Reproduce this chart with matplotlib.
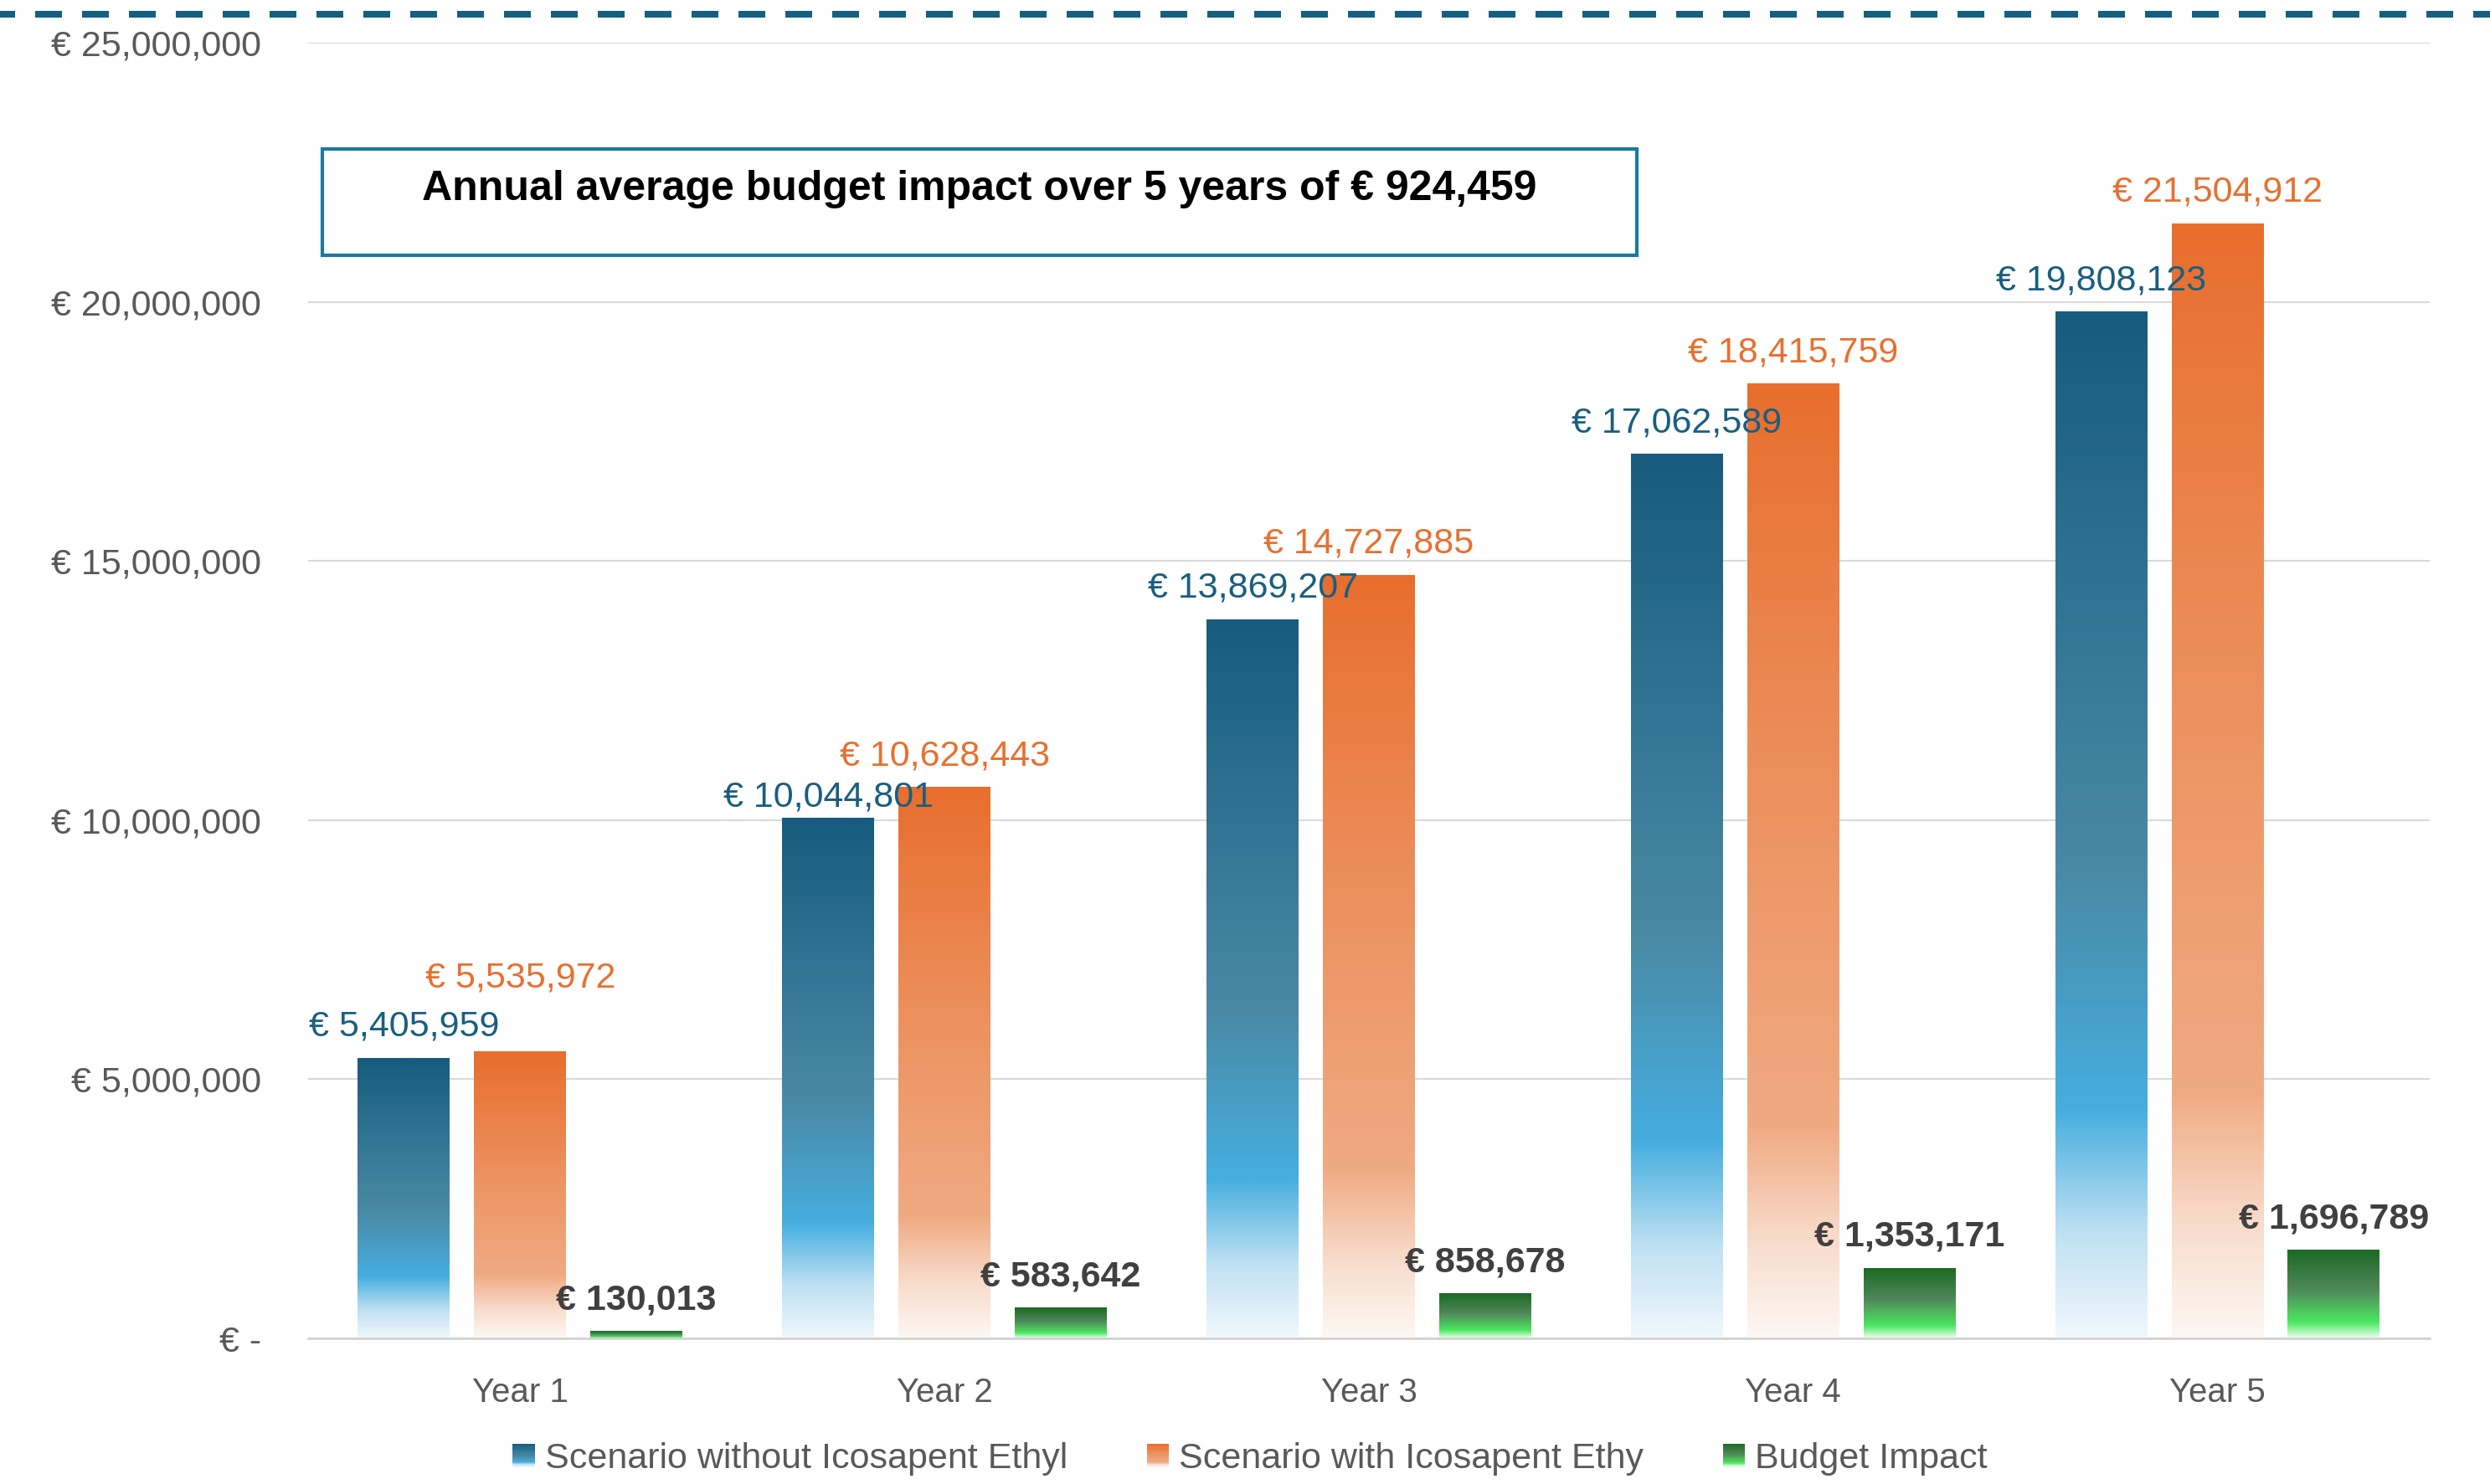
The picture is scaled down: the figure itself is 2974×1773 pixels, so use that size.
import numpy as np
import matplotlib
matplotlib.use("Agg")
import matplotlib.pyplot as plt
from matplotlib.colors import LinearSegmentedColormap
from matplotlib.patches import Rectangle
from matplotlib.lines import Line2D
from matplotlib.legend_handler import HandlerBase
from matplotlib.ticker import FuncFormatter

# data
years = ["Year 1", "Year 2", "Year 3", "Year 4", "Year 5"]
without_ie = [5405959, 10044801, 13869207, 17062589, 19808123]
with_ie = [5535972, 10628443, 14727885, 18415759, 21504912]
budget_impact = [130013, 583642, 858678, 1353171, 1696789]
series_names = ["Scenario without Icosapent Ethyl", "Scenario with Icosapent Ethy", "Budget Impact"]
avg_text = "Annual average budget impact over 5 years of € 924,459"

plt.rcParams["font.family"] = ["Liberation Sans", "DejaVu Sans"]

cm_blue = LinearSegmentedColormap.from_list(
    "b", [(0, "#f0f7fc"), (0.1, "#bfe1f3"), (0.22, "#46aee0"), (0.45, "#4a8aa6"), (1, "#175c7e")])
cm_orange = LinearSegmentedColormap.from_list(
    "o", [(0, "#fdf7f3"), (0.1, "#f8dccb"), (0.22, "#f0aa82"), (0.5, "#ed9767"), (1, "#e86e2d")])
cm_green = LinearSegmentedColormap.from_list(
    "g", [(0, "#f0fff0"), (0.18, "#4ce860"), (0.55, "#50885a"), (1, "#1b6a23")])


class GradientHandler(HandlerBase):
    def __init__(self, cmap):
        super().__init__()
        self.cmap = cmap

    def create_artists(self, legend, orig_handle, xdescent, ydescent,
                       width, height, fontsize, trans):
        n = 24
        arts = []
        for i in range(n):
            r = Rectangle((-xdescent, -ydescent + height * i / n), width, height / n * 1.05,
                          facecolor=self.cmap((i + 0.5) / n), edgecolor="none",
                          transform=trans)
            arts.append(r)
        return arts


fig = plt.figure(figsize=(29.74, 17.73), dpi=100)
ax = fig.add_axes([0.1237, 0.0981, 0.8521, 0.8731])

x = np.arange(len(years))
w = 0.217
off = 0.274
groups = [
    (without_ie, -off, cm_blue),
    (with_ie, 0.0, cm_orange),
    (budget_impact, off, cm_green),
]
grad = np.linspace(0, 1, 256).reshape(-1, 1)
handles = []
for vals, dx, cmap in groups:
    bars = ax.bar(x + dx, vals, w, color="none", edgecolor="none")
    for b in bars:
        ax.imshow(grad, extent=[b.get_x(), b.get_x() + b.get_width(), 0, b.get_height()],
                  cmap=cmap, aspect="auto", origin="lower", zorder=2, interpolation="bilinear")
    handles.append(bars)

ax.set_xlim(-0.5, 4.5)
ax.set_ylim(0, 25000000)
ax.set_yticks(np.arange(0, 25000001, 5000000))
ax.yaxis.set_major_formatter(FuncFormatter(lambda v, p: "€ -" if v == 0 else f"€ {v:,.0f}"))
ax.set_xticks(x)
ax.set_xticklabels(years)
ax.tick_params(axis="y", length=0, pad=40, labelsize=31, labelcolor="#595959")
ax.tick_params(axis="x", length=0, pad=33, labelsize=29, labelcolor="#595959")
ax.grid(axis="y", color="#d9d9d9", lw=1.5, zorder=0)
ax.set_axisbelow(True)
for s in ["top", "right", "left"]:
    ax.spines[s].set_visible(False)
ax.spines["bottom"].set_color("#d0d0d0")
ax.spines["bottom"].set_linewidth(1.8)

# data labels (vertical offsets in points, tuned to the reference)
blue_dy = [27, 18, 27, 27, 27]
orange_dy = [63, 27, 27, 27, 27]
for i in range(len(years)):
    ax.annotate(f"€ {without_ie[i]:,}", (x[i] - off, without_ie[i]), xytext=(0, blue_dy[i]),
                textcoords="offset points", ha="center", va="center", fontsize=31, color="#1a5e80")
    ax.annotate(f"€ {with_ie[i]:,}", (x[i], with_ie[i]), xytext=(0, orange_dy[i]),
                textcoords="offset points", ha="center", va="center", fontsize=31, color="#e8702f")
    ax.annotate(f"€ {budget_impact[i]:,}", (x[i] + off, budget_impact[i]), xytext=(0, 27),
                textcoords="offset points", ha="center", va="center", fontsize=31,
                color="#404040", fontweight="bold", annotation_clip=False)

# annotation box
fig.add_artist(Rectangle((0.1295, 0.828), 0.528, 0.0716, transform=fig.transFigure,
                         facecolor="white", edgecolor="#1a7aa0", lw=3, zorder=5))
fig.text(0.3934, 0.8725, avg_text, ha="center", va="center", fontsize=36,
         fontweight="bold", color="black", zorder=6)

# dashed line at the top
fig.add_artist(Line2D([0, 1], [0.9904, 0.9904], transform=fig.transFigure,
                      color="#155f80", lw=5.76, linestyle=(1.75, (4, 3))))

leg = fig.legend(handles, series_names, loc="center", bbox_to_anchor=(0.502, 0.017),
                 ncol=3, frameon=False, fontsize=31, handlelength=0.62, handleheight=0.62,
                 handletextpad=0.27, columnspacing=2.2,
                 handler_map={handles[0]: GradientHandler(cm_blue),
                              handles[1]: GradientHandler(cm_orange),
                              handles[2]: GradientHandler(cm_green)})
for t in leg.get_texts():
    t.set_color("#595959")

fig.savefig("out.png", dpi=100)
